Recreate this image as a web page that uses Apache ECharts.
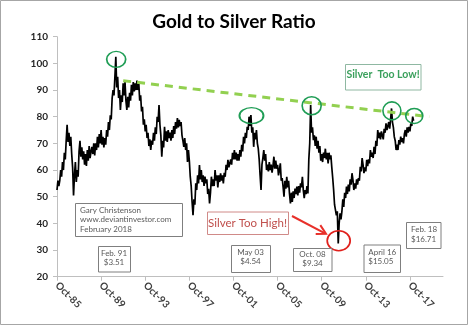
<!DOCTYPE html>
<html>
<head>
<meta charset="utf-8">
<script src="https://cdn.jsdelivr.net/npm/echarts@6/dist/echarts.min.js"></script>
<style>
  html, body { margin: 0; padding: 0; background: #fff; }
  #chart { width: 468px; height: 325px; }
</style>
</head>
<body>
<div id="chart"></div>
<script>
// Monthly gold-to-silver ratio, one array per calendar year (1985 starts in October).
const r1985 = [52.5, 56, 54];
const r1986 = [56, 60, 57.5, 63, 60, 66.5, 64, 71, 77, 70.5, 74, 69];
const r1987 = [72.5, 66, 61, 50.5, 58, 63, 55.5, 60, 57.5, 67, 71, 65];
const r1988 = [68.5, 64, 67, 62, 66, 61.5, 67.5, 63.5, 69, 64.5, 67, 68.7];
const r1989 = [66, 70, 65.5, 70, 67.5, 72.5, 68.5, 73.5, 70, 75, 69.5, 72.5];
const r1990 = [68.5, 72, 69.5, 75, 72.5, 78, 75, 80.5, 79, 87, 90, 88];
const r1991 = [95, 102.5, 91, 95, 87, 90, 82.5, 88, 85.5, 92.5, 88, 93];
const r1992 = [86, 82.5, 87.5, 83.5, 89, 86, 92, 88, 93, 89.5, 92.5, 90];
const r1993 = [93.5, 90, 92.5, 86, 88, 82, 83.7, 77, 79, 74.5, 77, 72];
const r1994 = [74, 69, 71.5, 67.5, 71, 69.5, 74, 71, 76, 73.5, 80, 78];
const r1995 = [84.4, 77, 73, 65, 71, 68.5, 76.2, 71, 74.5, 70.5, 75, 72];
const r1996 = [74, 71, 75, 72, 76.5, 73.5, 78, 75.5, 79.5, 76, 78.8, 76.5];
const r1997 = [78, 73, 71, 68.7, 72, 67.5, 70, 63, 67.5, 63.5, 57.5, 54];
const r1998 = [48, 43.1, 49, 47, 55, 52.5, 58, 55, 61.9, 56.5, 60, 55.5];
const r1999 = [58, 54, 57.5, 55, 56.5, 51, 53, 47.5, 51.5, 57.5, 54, 56.5];
const r2000 = [54, 60, 56, 58, 53.5, 58, 55.5, 58.8, 56, 58, 55, 59];
const r2001 = [57.5, 62, 60, 63.8, 61, 60.6, 64, 62, 66.5, 64, 67.5, 64];
const r2002 = [66.5, 63.5, 66, 63.5, 67.5, 65, 69.5, 67, 72.5, 70, 74, 72];
const r2003 = [76.2, 75, 80, 76.5, 80.6, 74, 76, 68.7, 74, 71.5, 75, 70];
const r2004 = [68, 64, 58, 52.5, 62, 64.5, 67.5, 63.5, 66, 60, 62, 59.5];
const r2005 = [63, 60, 62, 59, 61.5, 65, 60.5, 63.5, 60.5, 62, 58, 60];
const r2006 = [62.5, 56, 57, 53.8, 50, 56, 53, 57.5, 53.5, 56, 51, 47.5];
const r2007 = [51.5, 48, 52, 49.5, 53, 51, 53.8, 50.5, 54, 51.5, 55, 53.5];
const r2008 = [57.5, 52.5, 49.5, 52.5, 51, 54, 51.2, 64, 70, 84.4, 74, 76];
const r2009 = [71.2, 73, 69, 72.5, 68, 71, 66.5, 69, 63.5, 66, 63, 66.5];
const r2010 = [64.5, 68, 64, 66.5, 62.5, 66.5, 64, 65.5, 61, 57, 52.5, 47];
const r2011 = [47.5, 43, 44.5, 32.5, 40, 43.8, 41.5, 44.5, 49, 46.2, 51.5, 49.5];
const r2012 = [53.8, 51, 54.5, 52, 56.5, 54.5, 58.8, 56.3, 52.5, 55, 53, 56.5];
const r2013 = [54.5, 57, 56, 61.2, 59.5, 64.5, 62, 58.8, 61, 59.5, 63.8, 61.5];
const r2014 = [64, 62.5, 67.5, 65, 66.5, 64.5, 68.7, 66, 71, 69, 75, 72];
const r2015 = [74, 71.5, 74.5, 73.8, 71.5, 75.5, 74, 77.5, 75, 76.5, 78, 75.5];
const r2016 = [79, 83.1, 78, 76, 72.5, 71, 67.5, 69.5, 67.5, 71.2, 69.5, 72.5];
const r2017 = [70.5, 72, 70, 73.5, 75, 72.5, 76, 74, 76.2, 74.5, 77.5, 76.5];
const r2018 = [80, 78.5];

// X tick labels, one every four years starting October 1985.
const tickLabels = ['Oct-85', 'Oct-89', 'Oct-93', 'Oct-97', 'Oct-01', 'Oct-05', 'Oct-09', 'Oct-13', 'Oct-17'];
const monthsPerTick = 48;

// Resistance line endpoints: [month index, ratio].
const trendStart = [72, 93.5];
const trendEnd = [405, 80];

const ratio = [].concat(r1985, r1986, r1987, r1988, r1989, r1990, r1991, r1992, r1993,
  r1994, r1995, r1996, r1997, r1998, r1999, r2000, r2001, r2002, r2003, r2004, r2005,
  r2006, r2007, r2008, r2009, r2010, r2011, r2012, r2013, r2014, r2015, r2016, r2017, r2018);
const seriesData = ratio.map((v, i) => [i, v]);
const tickValues = tickLabels.map((_, i) => i * monthsPerTick);

const FONT = 'Lato, "Open Sans", sans-serif';
const green = '#1f9d55';

function ring(coord, size, color) {
  return {
    coord: coord,
    symbol: 'circle',
    symbolSize: size,
    itemStyle: { color: 'rgba(0,0,0,0)', borderColor: color, borderWidth: 1.6 },
    label: { show: false }
  };
}

function box(x, y, w, h, stroke) {
  return { type: 'rect', silent: true, shape: { x: x + 0.5, y: y + 0.5, width: w, height: h },
    style: { fill: '#fff', stroke: stroke || '#7f7f7f', lineWidth: 1 }, z: 10 };
}
function txt(x, y, text, opts) {
  return { type: 'text', silent: true, x: x, y: y, z: 11,
    style: Object.assign({ text: text, font: '8px ' + FONT, fill: '#595959',
      align: 'center', verticalAlign: 'middle', lineHeight: 9.5 }, opts || {}) };
}

const chart = echarts.init(document.getElementById('chart'), null, { renderer: 'canvas' });
chart.setOption({
  animation: false,
  backgroundColor: '#fff',
  title: {
    text: 'Gold to Silver Ratio',
    left: 'center',
    top: 7,
    textStyle: { fontFamily: FONT, fontSize: 19, fontWeight: 'bold', color: '#000' }
  },
  grid: { left: 57, right: 25, top: 36.7, bottom: 48.3, containLabel: false, outerBoundsMode: 'none' },
  xAxis: {
    type: 'value',
    min: 0,
    max: 420,
    interval: monthsPerTick,
    splitLine: { show: false },
    axisLine: { lineStyle: { color: '#bfbfbf', width: 1 } },
    axisTick: { show: true, length: 4, lineStyle: { color: '#bfbfbf' }, customValues: tickValues },
    axisLabel: {
      customValues: tickValues,
      rotate: -45,
      margin: 7,
      fontFamily: FONT,
      fontSize: 10,
      fontWeight: 'bold',
      color: '#404040',
      formatter: v => tickLabels[Math.round(v / monthsPerTick)] || ''
    }
  },
  yAxis: {
    type: 'value',
    min: 20,
    max: 110,
    interval: 10,
    splitLine: { show: false },
    axisLine: { show: true, lineStyle: { color: '#bfbfbf', width: 1 } },
    axisTick: { show: true, length: 4, lineStyle: { color: '#bfbfbf' } },
    axisLabel: { margin: 9, fontFamily: FONT, fontSize: 10, fontWeight: 'bold', color: '#262626' }
  },
  series: [
    {
      type: 'line',
      data: seriesData,
      showSymbol: false,
      lineStyle: { color: '#000', width: 1.7 },
      z: 3,
      markPoint: {
        silent: true,
        data: [
          ring([64.4, 101.5], [19, 16], green),
          ring([211.6, 80.4], [24, 16], green),
          ring([277.1, 84.1], [19, 18], green),
          ring([364.4, 82.2], [18, 18], green),
          ring([388.7, 80.3], [17, 15], green),
          ring([306.5, 33.5], [23, 20], '#e0201c')
        ]
      }
    },
    {
      type: 'line',
      data: [trendStart, trendEnd],
      showSymbol: false,
      lineStyle: { color: '#92d050', width: 3, type: [8, 6] },
      z: 4
    }
  ],
  graphic: [
    { type: 'rect', silent: true, shape: { x: 0.5, y: 0.5, width: 467, height: 324 },
      style: { fill: 'none', stroke: '#a6a6a6', lineWidth: 1 }, z: 20 },

    box(75, 203, 107, 33),
    txt(80, 219.5, 'Gary Christenson\nwww.deviantinvestor.com\nFebruary 2018', { align: 'left' }),

    box(98, 246, 32, 25.5),
    txt(114, 258, 'Feb. 91\n$3.51'),

    box(231, 245, 39, 27),
    txt(250.5, 256.7, 'May 03\n$4.54'),

    box(293, 248, 38.5, 23),
    txt(312.5, 259, 'Oct. 08\n$9.34'),

    box(363.5, 244.5, 36.5, 27.5),
    txt(368.3, 256.7, 'April 16\n$15.05', { align: 'left' }),

    box(406, 222, 34.5, 26),
    txt(411, 234.2, 'Feb. 18\n$16.71', { align: 'left' }),

    box(207, 211.5, 81, 22.5, '#d08a88'),
    txt(247.5, 223, 'Silver Too High!', { font: '11.5px ' + FONT, fill: '#c0504d' }),

    box(345, 64, 75.5, 25.5, '#8fb8a2'),
    txt(383, 74.5, 'Silver  Too Low!', { font: 'bold 10.5px ' + FONT, fill: '#3aa05c' }),

    { type: 'line', silent: true, z: 12,
      shape: { x1: 292, y1: 216, x2: 325, y2: 233.3 },
      style: { stroke: '#e8302a', lineWidth: 2 } },
    { type: 'polyline', silent: true, z: 12,
      shape: { points: [[320.3, 225.1], [326, 233.7], [315.7, 233.9]] },
      style: { stroke: '#e8302a', lineWidth: 2, fill: 'none' } }
  ]
});
</script>
</body>
</html>
